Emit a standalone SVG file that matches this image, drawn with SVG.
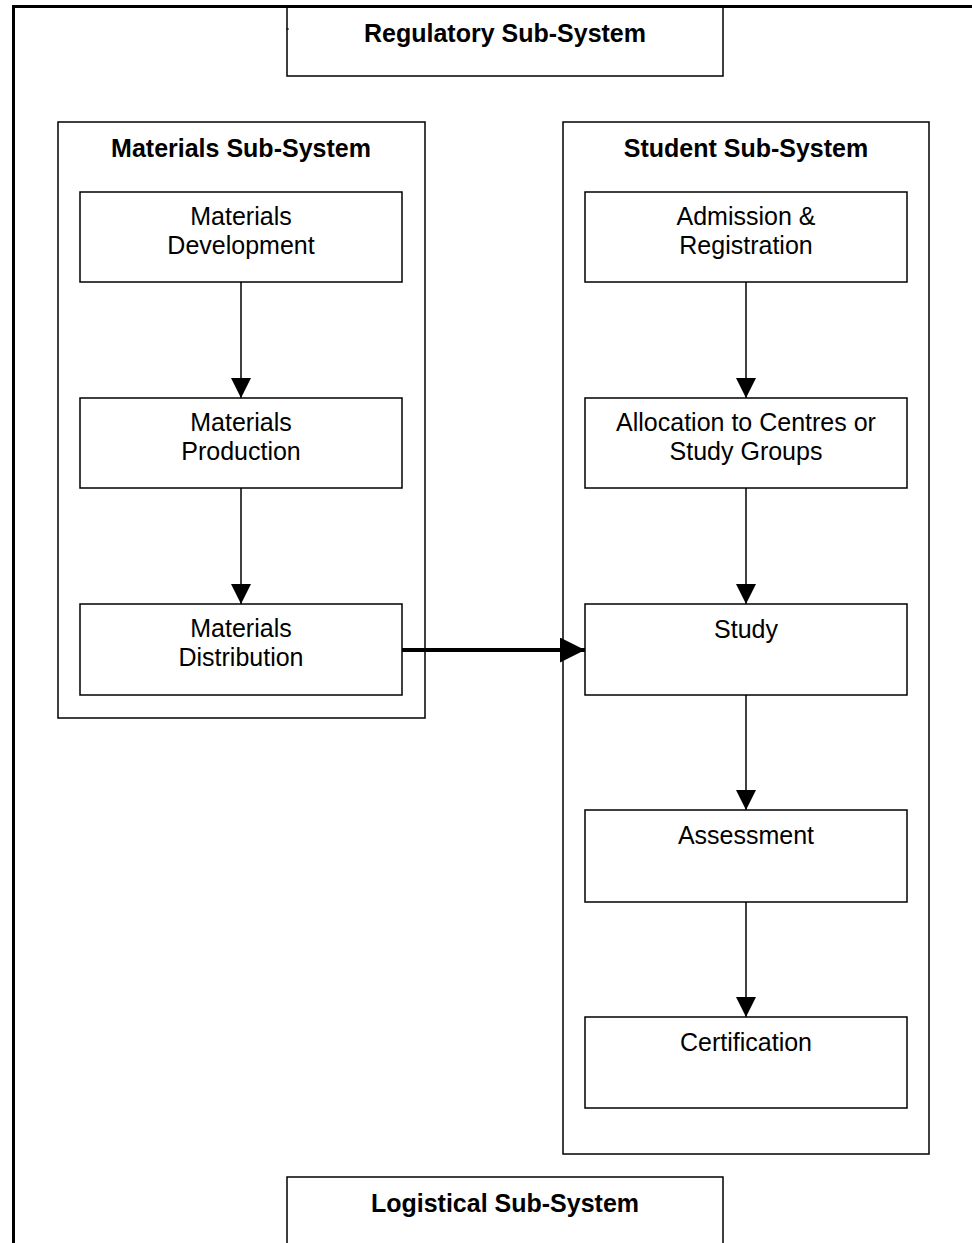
<svg xmlns="http://www.w3.org/2000/svg" width="972" height="1243" viewBox="0 0 972 1243">
<style>
.box{fill:#fff;stroke:#000;stroke-width:1.5}
.t{font-family:"Liberation Sans",Arial,sans-serif;font-size:25px;fill:#000;text-anchor:middle}
.b{font-weight:bold}
.c{stroke:#000;stroke-width:1.5;fill:none}
</style>
<defs>
<marker id="ah" markerUnits="userSpaceOnUse" markerWidth="20" markerHeight="20" refX="19" refY="9.5" orient="auto" viewBox="0 0 19 19">
<path d="M0,0 L19,9.5 L0,19 Z" fill="#000"/>
</marker>
<marker id="ahb" markerUnits="userSpaceOnUse" markerWidth="25" markerHeight="25" refX="24" refY="12" orient="auto" viewBox="0 0 24 24">
<path d="M0,0 L24,12 L0,24 Z" fill="#000"/>
</marker>
</defs>
<rect width="972" height="1243" fill="#fff"/>
<g id="outer">
<path d="M13.5,1243 V6.5 H972" fill="none" stroke="#000" stroke-width="3"/>
</g>
<g id="regulatory">
<path class="box" d="M287,8 V76 H723 V8"/>
<line x1="286" y1="29" x2="289" y2="29" stroke="#000" stroke-width="1"/>
<text class="t b" x="505" y="42">Regulatory Sub-System</text>
</g>
<g id="materials">
<rect class="box" x="58" y="122" width="367" height="596"/>
<text class="t b" x="241" y="157">Materials Sub-System</text>
</g>
<g id="student">
<rect class="box" x="563" y="122" width="366" height="1032"/>
<text class="t b" x="746" y="157">Student Sub-System</text>
</g>
<g id="mat-dev">
<rect class="box" x="80" y="192" width="322" height="90"/>
<text class="t" x="241" y="225">Materials</text>
<text class="t" x="241" y="254">Development</text>
</g>
<g id="mat-prod">
<rect class="box" x="80" y="398" width="322" height="90"/>
<text class="t" x="241" y="431">Materials</text>
<text class="t" x="241" y="460">Production</text>
</g>
<g id="mat-dist">
<rect class="box" x="80" y="604" width="322" height="91"/>
<text class="t" x="241" y="637">Materials</text>
<text class="t" x="241" y="666">Distribution</text>
</g>
<g id="admission">
<rect class="box" x="585" y="192" width="322" height="90"/>
<text class="t" x="746" y="225">Admission &amp;</text>
<text class="t" x="746" y="254">Registration</text>
</g>
<g id="allocation">
<rect class="box" x="585" y="398" width="322" height="90"/>
<text class="t" x="746" y="431">Allocation to Centres or</text>
<text class="t" x="746" y="460">Study Groups</text>
</g>
<g id="study">
<rect class="box" x="585" y="604" width="322" height="91"/>
<text class="t" x="746" y="638">Study</text>
</g>
<g id="assessment">
<rect class="box" x="585" y="810" width="322" height="92"/>
<text class="t" x="746" y="844">Assessment</text>
</g>
<g id="certification">
<rect class="box" x="585" y="1017" width="322" height="91"/>
<text class="t" x="746" y="1051">Certification</text>
</g>
<g id="logistical">
<path class="box" d="M287,1243 V1177 H723 V1243"/>
<text class="t b" x="505" y="1212">Logistical Sub-System</text>
</g>
<g id="connectors">
<line class="c" x1="241" y1="282" x2="241" y2="398" marker-end="url(#ah)"/>
<line class="c" x1="241" y1="488" x2="241" y2="604" marker-end="url(#ah)"/>
<line class="c" x1="746" y1="282" x2="746" y2="398" marker-end="url(#ah)"/>
<line class="c" x1="746" y1="488" x2="746" y2="604" marker-end="url(#ah)"/>
<line class="c" x1="746" y1="695" x2="746" y2="810" marker-end="url(#ah)"/>
<line class="c" x1="746" y1="902" x2="746" y2="1017" marker-end="url(#ah)"/>
<line x1="402" y1="650" x2="585" y2="650" stroke="#000" stroke-width="4" marker-end="url(#ahb)"/>
</g>
</svg>
